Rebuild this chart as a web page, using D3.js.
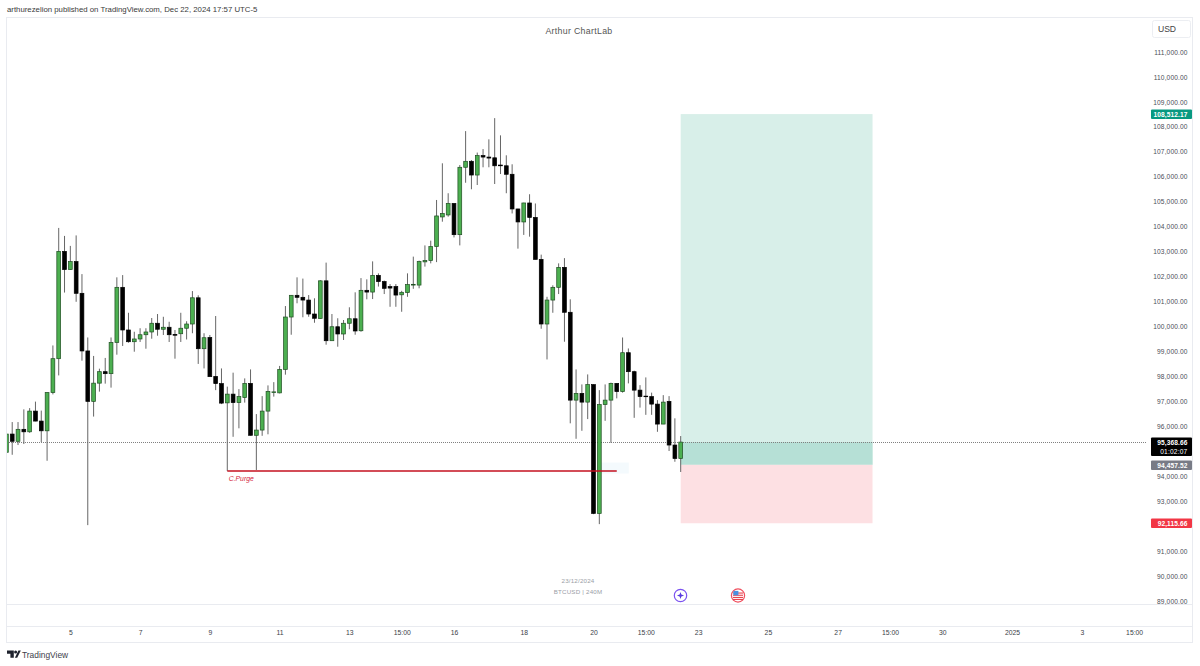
<!DOCTYPE html>
<html>
<head>
<meta charset="utf-8">
<title>BTCUSD 240M</title>
<script src="https://cdn.jsdelivr.net/npm/d3@7/dist/d3.min.js"></script>
<style>
  html, body { margin: 0; padding: 0; background: #fff; }
  svg { display: block; }
  text { font-family: "Liberation Sans", Arial, sans-serif; }
</style>
</head>
<body>
<svg id="chart" width="1200" height="666"></svg>
<script>
// BTCUSD 4-hour candles, oldest first
const opens = [94960,95690,95400,95880,95780,96610,96210,95820,97350,98710,103010,102280,102600,101330,99020,97000,97730,98190,98110,99360,
  101570,99860,99390,99500,99670,99780,100130,99890,99970,99680,99710,99930,100100,101150,99110,99560,98000,97710,96940,97290,
  96950,97150,97720,95640,95850,96610,97350,97340,98280,100380,101250,101170,101060,100500,100320,101830,99430,99990,99700,100130,
  100310,99830,101450,101380,102050,101800,101600,101600,101270,101360,101660,101660,102590,102640,103200,104390,104470,104930,103680,106380,
  106620,106070,106850,106790,106760,106470,106440,106100,104710,104190,104950,104370,102690,100100,101060,101570,102370,100570,97050,97320,
  96970,97670,92510,96870,97050,97720,97390,98950,98190,97450,97210,97190,96890,96090,97000,95250,94710];
const highs = [95690,96170,96170,96680,96730,96990,96630,97370,99240,103950,103630,103230,103650,102100,99560,98820,98310,98740,99560,101970,
  102060,100550,99790,99930,99930,100340,100500,100390,100190,99860,100550,100210,101420,101250,99730,99660,100420,98320,97590,98150,
  97490,97920,98280,96490,97210,97640,97770,98420,100820,101260,101970,101920,101260,101130,101860,102560,100500,100330,100260,100770,
  101370,101940,101890,102610,102130,101840,101700,101700,101430,102130,102800,102640,103250,103440,105070,106540,105340,104940,106470,107830,
  106670,106970,107110,107500,108350,107660,106860,106500,104720,104960,105300,104930,102880,101190,101650,102530,102740,101090,98280,97680,
  98080,97680,97450,97680,97750,97730,99560,99120,98230,97650,97960,97350,97050,97250,97210,96320,95610];
const lows = [94960,94860,95250,95290,95740,96200,95370,94620,97280,98040,101360,102280,100990,98630,92040,96390,97390,97710,97550,98870,
  99220,99350,98990,99380,99110,99510,99630,99660,99380,98710,99380,99480,99730,98500,98320,97990,97450,96890,94210,95580,
  95920,96950,95630,94250,95620,95680,97190,97320,98070,99670,100930,100370,100390,100150,100310,99270,99430,99190,99460,99890,
  99670,99790,101090,101100,101600,101300,100790,100790,100590,101190,101510,101530,102400,102530,102580,104200,104400,103570,103250,105760,
  105500,105670,106380,106380,105710,106110,105340,104530,103120,103670,103600,102690,99910,98680,100550,101300,99390,96120,95500,95820,
  96290,92480,92080,96220,95340,97120,97350,97720,96340,96750,96460,96460,95780,96090,95010,94580,94170];
const closes = [95690,95400,95880,95780,96610,96210,95820,97350,98710,103010,102280,102600,101330,99020,97000,97730,98190,98110,99360,101570,
  99860,99390,99500,99670,99780,100130,99890,99970,99670,99650,99930,100100,101150,99110,99550,97990,97710,96930,97290,96950,
  97190,97720,95640,95850,96610,97400,97380,98280,100380,101250,101170,101060,100500,100330,101830,99430,99990,99700,100130,100310,
  99820,101450,101380,102050,101800,101530,101540,101260,101370,101680,101690,102600,102640,103200,104430,104530,104930,103680,106380,106620,
  106070,106850,106790,106750,106440,106440,106100,104710,104190,104950,104370,102690,100100,101060,101570,102370,100570,97050,97320,96970,
  97670,92510,96870,97050,97720,97390,98950,98190,97450,97190,97190,96890,96090,96970,95250,94710,95368.66];

// Horizontal price line and trade levels
const purgeLevel = 94207;
const purgeLabel = "C.Purge";
const lastPrice = 95368.66;
const countdown = "01:02:07";
const targetPrice = 108512.17;
const entryPrice = 94457.52;
const stopPrice = 92115.66;

// Price axis: two levels are covered by the last-price and stop tags
const priceTicks = [111000,110000,109000,108000,107000,106000,105000,104000,103000,102000,101000,100000,99000,98000,97000,96000,94000,93000,91000,90000,89000];

// Time axis labels, exchange time (UTC-5)
const timeTicks = [["2024-12-05T03:00Z","5"],["2024-12-07T03:00Z","7"],["2024-12-09T03:00Z","9"],["2024-12-11T03:00Z","11"],["2024-12-13T03:00Z","13"],
  ["2024-12-14T15:00Z","15:00"],["2024-12-16T03:00Z","16"],["2024-12-18T03:00Z","18"],["2024-12-20T03:00Z","20"],["2024-12-21T15:00Z","15:00"],
  ["2024-12-23T03:00Z","23"],["2024-12-25T03:00Z","25"],["2024-12-27T03:00Z","27"],["2024-12-28T15:00Z","15:00"],["2024-12-30T03:00Z","30"],
  ["2025-01-01T03:00Z","2025"],["2025-01-03T03:00Z","3"],["2025-01-04T15:00Z","15:00"]];

const firstBar = new Date("2024-12-03T07:00Z");
const lastBar = new Date("2024-12-22T15:00Z");
const positionEnd = new Date("2024-12-28T03:00Z");
const purgeStart = new Date("2024-12-09T15:00Z");
const purgeEnd = new Date("2024-12-20T19:00Z");

const bars = opens.map((o, i) => ({
  t: d3.utcHour.offset(firstBar, 4 * i), o, h: highs[i], l: lows[i], c: closes[i]
}));

const x = d3.scaleUtc().domain([firstBar, lastBar]).range([6.4, 680.7]);
const y = d3.scaleLinear().domain([89000, 111000]).range([601, 52]);

const svg = d3.select("#chart");
const defs = svg.append("defs");
defs.append("clipPath").attr("id", "pane").append("rect")
  .attr("x", 7).attr("y", 18).attr("width", 1139).attr("height", 586);

const frame = "#e9ebf0";

// Outer frame and pane separators
svg.append("rect").attr("x", 6.5).attr("y", 17.5).attr("width", 1186).attr("height", 625)
  .attr("fill", "none").attr("stroke", frame);
[604.5, 626.5].forEach(v => svg.append("line").attr("x1", 7).attr("x2", 1193).attr("y1", v).attr("y2", v).attr("stroke", frame));

svg.append("text").attr("x", 7).attr("y", 12).attr("font-size", 7.8).attr("fill", "#3a3a3a")
  .attr("font-family", "Lato")
  .text("arthurezelion published on TradingView.com, Dec 22, 2024 17:57 UTC-5");
svg.append("text").attr("x", 579).attr("y", 34).attr("text-anchor", "middle").attr("font-size", 8.8)
  .attr("fill", "#555").attr("letter-spacing", 0.3).text("Arthur ChartLab");

// Long position: reward and risk zones
const plot = svg.append("g").attr("clip-path", "url(#pane)");
const px0 = x(lastBar), px1 = x(positionEnd);
plot.append("rect").attr("x", px0).attr("width", px1 - px0)
  .attr("y", y(targetPrice)).attr("height", y(entryPrice) - y(targetPrice)).attr("fill", "#d8efe9");
plot.append("rect").attr("x", px0).attr("width", px1 - px0)
  .attr("y", y(lastPrice)).attr("height", y(entryPrice) - y(lastPrice)).attr("fill", "#b6e0d6");
plot.append("rect").attr("x", px0).attr("width", px1 - px0)
  .attr("y", y(entryPrice)).attr("height", y(stopPrice) - y(entryPrice)).attr("fill", "#fde0e3");

// Faint highlight behind the end of the purge line
plot.append("rect").attr("x", x(purgeEnd) - 16).attr("width", 28)
  .attr("y", y(94550)).attr("height", 11).attr("fill", "#f4fafd");

// Dotted last-price line
plot.append("line").attr("x1", 7).attr("x2", 1146).attr("y1", Math.round(y(lastPrice)) + 0.5).attr("y2", Math.round(y(lastPrice)) + 0.5)
  .attr("stroke", "#808080").attr("stroke-width", 1).attr("stroke-dasharray", "1 1");

// Candles
const candle = plot.append("g").selectAll("g").data(bars).join("g");
candle.append("line")
  .attr("x1", d => x(d.t)).attr("x2", d => x(d.t))
  .attr("y1", d => y(d.h)).attr("y2", d => y(d.l))
  .attr("stroke", "#666").attr("stroke-width", 1);
candle.append("rect")
  .attr("x", d => x(d.t) - 1.9).attr("width", 3.8)
  .attr("y", d => y(Math.max(d.o, d.c)))
  .attr("height", d => Math.max(0.6, Math.abs(y(d.o) - y(d.c))))
  .attr("fill", d => d.c >= d.o ? "#4caf50" : "#000")
  .attr("stroke", d => d.c >= d.o ? "#1f4d22" : "#000")
  .attr("stroke-width", 0.7);

// Purge level with its note
plot.append("line").attr("x1", x(purgeStart)).attr("x2", x(purgeEnd))
  .attr("y1", y(purgeLevel)).attr("y2", y(purgeLevel)).attr("stroke", "#c4101f").attr("stroke-width", 1.4);
plot.append("text").attr("x", x(purgeStart) + 1.5).attr("y", y(purgeLevel) + 9.5)
  .attr("font-size", 6.8).attr("font-style", "italic").attr("fill", "#d3233a").text(purgeLabel);

// Centre stamp above the time axis
svg.append("text").attr("x", 578).attr("y", 583).attr("text-anchor", "middle").attr("font-size", 6.2)
  .attr("fill", "#9a9ea6").attr("letter-spacing", 0.2).text("23/12/2024");
svg.append("text").attr("x", 578).attr("y", 594).attr("text-anchor", "middle").attr("font-size", 6.2)
  .attr("fill", "#9a9ea6").attr("letter-spacing", 0.2).text("BTCUSD | 240M");

// Event markers on the time axis
const spark = svg.append("g").attr("transform", "translate(680.5,595.5)");
spark.append("circle").attr("r", 6.2).attr("fill", "#fff").attr("stroke", "#7b52f0").attr("stroke-width", 1.2);
spark.append("path").attr("d", "M0,-3.6 L0.9,-0.9 L3.6,0 L0.9,0.9 L0,3.6 L-0.9,0.9 L-3.6,0 L-0.9,-0.9Z").attr("fill", "#5a3ce0");

const flag = svg.append("g").attr("transform", "translate(738,595.5)");
flag.append("circle").attr("r", 6.6).attr("fill", "#fff").attr("stroke", "#f0505f").attr("stroke-width", 1.2);
[-3, -0.8, 1.4, 3.4].forEach(v => flag.append("rect").attr("x", -5).attr("y", v).attr("width", 10).attr("height", 1.1).attr("fill", "#e8434f"));
flag.append("rect").attr("x", -4.6).attr("y", -4.6).attr("width", 5).attr("height", 4.4).attr("fill", "#4a8fe0");

// Price axis
const yAxis = d3.axisRight(y).tickValues(priceTicks).tickSize(0).tickPadding(0).tickFormat(d3.format(",.2f"));
svg.append("g").attr("transform", "translate(1187.5,0)").call(yAxis)
  .call(g => g.select(".domain").remove())
  .call(g => g.selectAll("text").attr("text-anchor", "end").attr("x", 0).attr("font-size", 6.6).attr("fill", "#4a4e57").attr("letter-spacing", 0.12).style("font-family", "Liberation Sans"));

// Currency button
svg.append("rect").attr("x", 1152.5).attr("y", 20.5).attr("width", 38).attr("height", 17).attr("rx", 2)
  .attr("fill", "#fff").attr("stroke", "#eceef2");
svg.append("text").attr("x", 1167).attr("y", 32.3).attr("text-anchor", "middle").attr("font-size", 8.6)
  .attr("fill", "#444").text("USD");

// Price tags on the axis
function tag(value, fill, text, h) {
  const top = Math.round(y(value)) - 4.5;
  svg.append("rect").attr("x", 1151).attr("y", top).attr("width", 41).attr("height", h).attr("rx", 1).attr("fill", fill);
  svg.append("text").attr("x", 1187.5).attr("y", top + 7).attr("text-anchor", "end").attr("font-size", 6.6)
    .attr("font-weight", "bold").attr("fill", "#fff").attr("letter-spacing", 0.1).text(text);
}
const money = d3.format(",.2f");
tag(targetPrice, "#089981", money(targetPrice), 9.5);
tag(lastPrice, "#000", money(lastPrice), 18.5);
svg.append("text").attr("x", 1187.5).attr("y", y(lastPrice) + 11.8).attr("text-anchor", "end").attr("font-size", 6.6)
  .attr("fill", "#fff").attr("letter-spacing", 0.2).text(countdown);
tag(entryPrice, "#787b86", money(entryPrice), 9.5);
tag(stopPrice, "#f23645", money(stopPrice), 9.5);

// Time axis
const xAxis = d3.axisBottom(x).tickValues(timeTicks.map(d => new Date(d[0]))).tickSize(0).tickPadding(0)
  .tickFormat((d, i) => timeTicks[i][1]);
svg.append("g").attr("transform", "translate(0,630.5)").call(xAxis)
  .call(g => g.select(".domain").remove())
  .call(g => g.selectAll("text").attr("dy", "0.71em").attr("font-size", 6.8).attr("fill", "#3a3e47").style("font-family", "Liberation Sans"));

// Wordmark in the footer
const logo = svg.append("g").attr("transform", "translate(7,650.5)").attr("fill", "#1e222d");
logo.append("path").attr("d", "M0,0 H6.8 V7.2 H3.4 V3.3 H0Z");
logo.append("circle").attr("cx", 8.6).attr("cy", 1.6).attr("r", 1.5);
logo.append("path").attr("d", "M11.4,0 H13.8 L10.2,7.2 H7.9Z");
svg.append("text").attr("x", 22).attr("y", 657.5).attr("font-size", 8.4).attr("fill", "#3c4049")
  .attr("font-family", "Lato").text("TradingView");
</script>
</body>
</html>
